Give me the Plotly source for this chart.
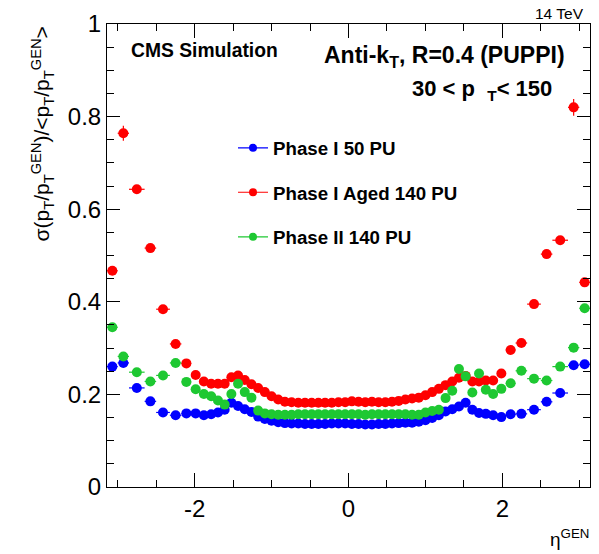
import plotly.graph_objects as go

# bin centres in eta^GEN (HCAL-tower-like binning)
eta = [-3.0695, -2.9265, -2.7515, -2.575, -2.411, -2.247, -2.1075, -1.9865, -1.88, -1.785,
       -1.6965, -1.6095, -1.5225, -1.4355, -1.3485, -1.2615, -1.1745, -1.0875, -1.0005, -0.9135,
       -0.8265, -0.7395, -0.6525, -0.5655, -0.4785, -0.3915, -0.3045, -0.2175, -0.1305, -0.0435,
       0.0435, 0.1305, 0.2175, 0.3045, 0.3915, 0.4785, 0.5655, 0.6525, 0.7395, 0.8265,
       0.9135, 1.0005, 1.0875, 1.1745, 1.2615, 1.3485, 1.4355, 1.5225, 1.6095, 1.6965,
       1.785, 1.88, 1.9865, 2.1075, 2.247, 2.411, 2.575, 2.7515, 2.9265, 3.0695]
# half bin widths
eta_halfwidth = [0.0695, 0.0735, 0.1015, 0.075, 0.089, 0.075, 0.0645, 0.0565, 0.05, 0.045] + [0.0435] * 40 + \
                [0.045, 0.05, 0.0565, 0.0645, 0.075, 0.089, 0.075, 0.1015, 0.0735, 0.0695]

phase1_50pu = [0.260, 0.268, 0.214, 0.185, 0.161, 0.155, 0.159, 0.159, 0.155, 0.157,
               0.161, 0.167, 0.182, 0.175, 0.168, 0.162, 0.152, 0.147, 0.143, 0.140,
               0.138, 0.137, 0.137, 0.136, 0.136, 0.136, 0.136, 0.137, 0.137, 0.137,
               0.136, 0.136, 0.135, 0.135, 0.136, 0.136, 0.137, 0.138, 0.139, 0.139,
               0.141, 0.144, 0.149, 0.155, 0.163, 0.168, 0.174, 0.182, 0.167, 0.160,
               0.158, 0.155, 0.151, 0.157, 0.158, 0.167, 0.184, 0.203, 0.263, 0.265]
phase1_aged_140pu = [0.467, 0.764, 0.643, 0.516, 0.384, 0.309, 0.267, 0.242, 0.228, 0.223,
                     0.223, 0.223, 0.237, 0.241, 0.231, 0.222, 0.214, 0.205, 0.196, 0.189,
                     0.184, 0.183, 0.182, 0.182, 0.182, 0.182, 0.182, 0.182, 0.183, 0.183,
                     0.185, 0.184, 0.183, 0.184, 0.183, 0.183, 0.184, 0.186, 0.189, 0.191,
                     0.193, 0.198, 0.205, 0.212, 0.220, 0.228, 0.236, 0.240, 0.228, 0.228,
                     0.230, 0.230, 0.245, 0.296, 0.311, 0.395, 0.503, 0.533, 0.820, 0.442]
phase2_140pu = [0.345, 0.282, 0.248, 0.228, 0.241, 0.268, 0.227, 0.211, 0.201, 0.196,
                0.187, 0.178, 0.201, 0.223, 0.205, 0.193, 0.165, 0.159, 0.157, 0.156,
                0.156, 0.156, 0.157, 0.157, 0.157, 0.157, 0.157, 0.157, 0.157, 0.157,
                0.157, 0.157, 0.156, 0.157, 0.157, 0.157, 0.157, 0.157, 0.157, 0.156,
                0.156, 0.161, 0.164, 0.167, 0.192, 0.208, 0.255, 0.239, 0.204, 0.245,
                0.210, 0.201, 0.212, 0.224, 0.251, 0.234, 0.230, 0.260, 0.301, 0.386]
# vertical uncertainties (mostly hidden by the markers)
err_phase1_50pu = [0.006] * 60
err_phase1_aged = [0.008, 0.016, 0.008, 0.006, 0.006] + [0.004] * 50 + [0.006, 0.006, 0.008, 0.018, 0.008]
err_phase2 = [0.006] * 60

series_names = ["Phase I 50 PU", "Phase I Aged 140 PU", "Phase II 140 PU"]
series_colors = ["#0000ff", "#ff0000", "#1ec832"]
series_values = [phase1_50pu, phase1_aged_140pu, phase2_140pu]
series_errors = [err_phase1_50pu, err_phase1_aged, err_phase2]

y_tickvals = [0, 0.2, 0.4, 0.6, 0.8, 1.0]
y_ticktext = ["0", "0.2", "0.4", "0.6", "0.8", "1"]
x_tickvals = [-2, 0, 2]
x_ticktext = ["-2", "0", "2"]

FONT = "Liberation Sans, Arial, Helvetica, sans-serif"

fig = go.Figure()
for name, color, vals, errs in zip(series_names, series_colors, series_values, series_errors):
    fig.add_trace(go.Scatter(
        x=eta, y=vals, mode="markers", showlegend=False,
        marker=dict(color=color, size=10, symbol="circle", line=dict(width=0)),
        error_x=dict(type="data", array=eta_halfwidth, color=color, thickness=1.2, width=0),
        error_y=dict(type="data", array=errs, color=color, thickness=1.2, width=0),
    ))

legend_ids = ["legend", "legend2", "legend3"]
for name, color, lid in zip(series_names, series_colors, legend_ids):
    fig.add_trace(go.Scatter(
        x=[None], y=[None], mode="lines+markers", name="<b>" + name + "</b>", legend=lid,
        marker=dict(color=color, size=8), line=dict(color=color, width=1.2),
    ))

legend_common = dict(xanchor="left", yanchor="middle", bgcolor="rgba(0,0,0,0)",
                     font=dict(family=FONT, size=18.7, color="black"), itemwidth=30,
                     borderwidth=0)
PL, PW = 107, 483
PT, PH = 24, 463.3

def px_x(x):
    return (x - PL) / PW

def px_y(y):
    return (PT + PH - y) / PH

fig.update_layout(
    width=599, height=554,
    margin=dict(l=PL, r=599 - PL - PW, t=PT, b=554 - PT - 463),
    paper_bgcolor="white", plot_bgcolor="white",
    font=dict(family=FONT, color="black"),
    legend=dict(x=px_x(233), y=px_y(148.3), **legend_common),
    legend2=dict(x=px_x(233), y=px_y(192.7), **legend_common),
    legend3=dict(x=px_x(233), y=px_y(237.3), **legend_common),
    xaxis=dict(range=[-3.139, 3.139], tickvals=x_tickvals, ticktext=x_ticktext,
               ticks="inside", ticklen=14, tickwidth=1, tickcolor="black",
               minor=dict(tick0=0, dtick=0.5, ticks="inside", ticklen=7, tickwidth=1, tickcolor="black"),
               showline=True, linecolor="black", linewidth=1, mirror="allticks",
               showgrid=False, zeroline=False,
               tickfont=dict(family=FONT, size=24, color="black")),
    yaxis=dict(range=[0, 1], tickvals=y_tickvals, ticktext=y_ticktext,
               ticks="inside", ticklen=13, tickwidth=1, tickcolor="black",
               minor=dict(tick0=0, dtick=0.05, ticks="inside", ticklen=7, tickwidth=1, tickcolor="black"),
               showline=True, linecolor="black", linewidth=1, mirror="allticks",
               showgrid=False, zeroline=False,
               tickfont=dict(family=FONT, size=24, color="black")),
)

annotations = [
    dict(text="<b>CMS Simulation</b>", x=px_x(129), y=px_y(50.5), xanchor="left", yanchor="middle",
         font=dict(size=19.3)),
    dict(text="<b>Anti-k<sub>T</sub>, R=0.4 (PUPPI)</b>", x=px_x(567), y=px_y(57), xanchor="right",
         yanchor="middle", font=dict(size=23)),
    dict(text="<b>30 &lt; p&nbsp; <sub>T</sub>&lt; 150</b>", x=px_x(554), y=px_y(90), xanchor="right",
         yanchor="middle", font=dict(size=22)),
    dict(text="14 TeV", x=px_x(586), y=px_y(13), xanchor="right", yanchor="middle", font=dict(size=15.5)),
    dict(text="η<sup>GEN</sup>", x=px_x(591), y=px_y(538), xanchor="right", yanchor="middle",
         font=dict(size=19)),
    dict(text="σ(p<sub>T</sub>/p<sub>T</sub><sup>GEN</sup>)/&lt;p<sub>T</sub>/p<sub>T</sub><sup>GEN</sup>&gt;",
         x=px_x(42), y=px_y(25), xanchor="center", yanchor="top", textangle=-90, font=dict(size=21)),
]
for a in annotations:
    a.update(xref="paper", yref="paper", showarrow=False)
    a["font"].update(family=FONT, color="black")
fig.update_layout(annotations=annotations)

fig.write_html("out.html")
